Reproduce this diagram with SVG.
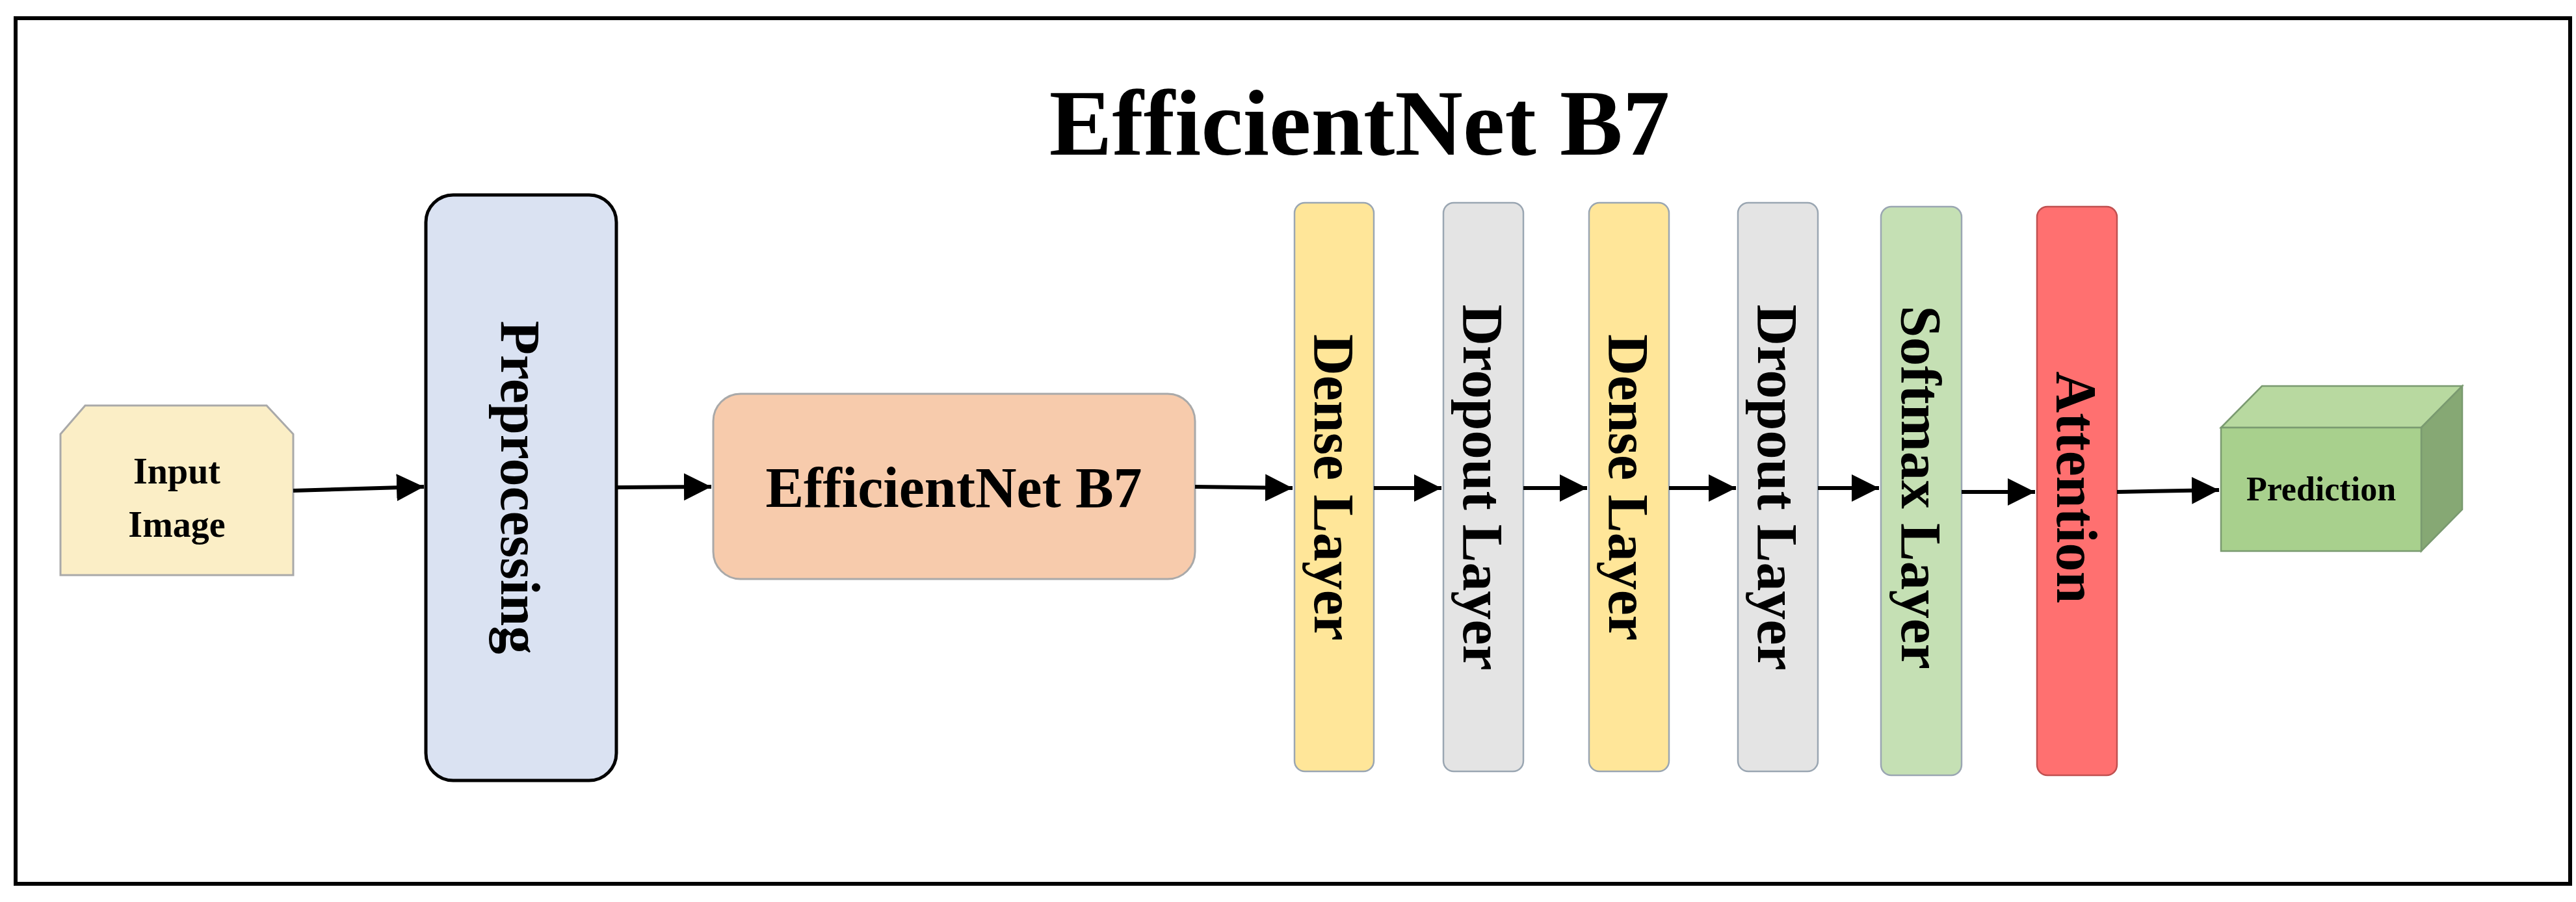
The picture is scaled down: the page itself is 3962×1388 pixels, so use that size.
<svg xmlns="http://www.w3.org/2000/svg" width="3962" height="1388" viewBox="0 0 3962 1388">
<style>
text{font-family:"Liberation Serif","Times New Roman",serif;font-weight:bold;fill:#000}
.c{stroke:#000;stroke-width:6;fill:none}
.lay{stroke:#9aa6b2;stroke-width:2.5}
</style>
<defs><marker id="ah" markerWidth="8" markerHeight="8" refX="7" refY="4" orient="auto" markerUnits="strokeWidth"><path d="M0,0.5 L7,4 L0,7.5 Z" fill="#000"/></marker></defs>
<rect width="3962" height="1388" fill="#fff"/>
<rect x="24" y="28" width="3929" height="1332" fill="none" stroke="#000" stroke-width="6"/>
<text x="2091" y="238" font-size="145" text-anchor="middle">EfficientNet B7</text>
<g id="input"><path d="M93,668 L131,624 L410,624 L451,668 L451,885 L93,885 Z" fill="#fbeec6" stroke="#a9a9a9" stroke-width="3"/>
<text x="272" y="744" font-size="56" text-anchor="middle">Input</text><text x="272" y="826" font-size="56" text-anchor="middle">Image</text></g>
<g id="pre"><rect x="655" y="300" width="293" height="901" rx="42" fill="#dae2f2" stroke="#000" stroke-width="5"/>
<text transform="translate(801,750) rotate(90)" font-size="86" text-anchor="middle" dy="30">Preprocessing</text></g>
<g id="eff"><rect x="1097" y="606" width="741" height="285" rx="42" fill="#f7cbac" stroke="#a9a9a9" stroke-width="3"/>
<text x="1467" y="780" font-size="88" text-anchor="middle">EfficientNet B7</text></g>
<g id="dense1"><rect class="lay" x="1991" y="312" width="122" height="875" rx="16" fill="#ffe699"/>
<text transform="translate(2052,750) rotate(90)" font-size="88" text-anchor="middle" dy="30">Dense Layer</text></g>
<g id="drop1"><rect class="lay" x="2220" y="312" width="123" height="875" rx="16" fill="#e4e4e4"/>
<text transform="translate(2281,750) rotate(90)" font-size="88" text-anchor="middle" dy="30">Dropout Layer</text></g>
<g id="dense2"><rect class="lay" x="2444" y="312" width="123" height="875" rx="16" fill="#ffe699"/>
<text transform="translate(2505,750) rotate(90)" font-size="88" text-anchor="middle" dy="30">Dense Layer</text></g>
<g id="drop2"><rect class="lay" x="2673" y="312" width="123" height="875" rx="16" fill="#e4e4e4"/>
<text transform="translate(2734,750) rotate(90)" font-size="88" text-anchor="middle" dy="30">Dropout Layer</text></g>
<g id="soft"><rect class="lay" x="2893" y="318" width="124" height="875" rx="16" fill="#c5e0b4" stroke="#a3c29a"/>
<text transform="translate(2955,750) rotate(90)" font-size="88" text-anchor="middle" dy="30">Softmax Layer</text></g>
<g id="att"><rect x="3133" y="318" width="123" height="875" rx="16" fill="#ff7070" stroke="#c05050" stroke-width="2.5"/>
<text transform="translate(3194,750) rotate(90)" font-size="88" text-anchor="middle" dy="30">Attention</text></g>
<g id="pred"><path d="M3416,658 L3479,594 L3787,594 L3724,658 Z" fill="#b8d9a0" stroke="#7a9a70" stroke-width="2.5"/>
<path d="M3724,658 L3787,594 L3787,784 L3724,848 Z" fill="#86a874" stroke="#7a9a70" stroke-width="2.5"/>
<rect x="3416" y="658" width="308" height="190" fill="#a8d08d" stroke="#7a9a70" stroke-width="2.5"/>
<text x="3570" y="770" font-size="52" text-anchor="middle">Prediction</text></g>
<g id="connectors">
<path class="c" d="M451,755 L652,749" marker-end="url(#ah)"/>
<path class="c" d="M948,750 L1094,749" marker-end="url(#ah)"/>
<path class="c" d="M1838,749 L1988,751" marker-end="url(#ah)"/>
<path class="c" d="M2113,751 L2217,751" marker-end="url(#ah)"/>
<path class="c" d="M2343,751 L2441,751" marker-end="url(#ah)"/>
<path class="c" d="M2567,751 L2670,751" marker-end="url(#ah)"/>
<path class="c" d="M2796,751 L2890,751" marker-end="url(#ah)"/>
<path class="c" d="M3017,757 L3130,757" marker-end="url(#ah)"/>
<path class="c" d="M3256,757 L3413,754" marker-end="url(#ah)"/>
</g>
</svg>
